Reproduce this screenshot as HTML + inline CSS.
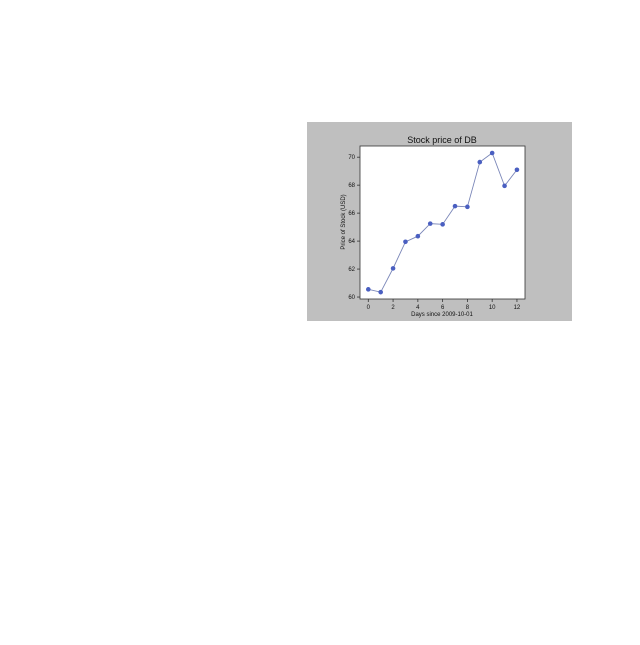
<!DOCTYPE html>
<html><head><meta charset="utf-8"><style>
body{margin:0;width:640px;height:640px;background:#fff;font-family:"Liberation Sans",sans-serif}
</style></head><body>
<svg width="640" height="640">
<rect x="307" y="122" width="265" height="199" fill="#bfbfbf"/>
<rect x="360" y="146" width="165" height="153" fill="#fff" stroke="#333" stroke-width="0.8"/>
<text x="442" y="143" font-size="9" text-anchor="middle" fill="#111">Stock price of DB</text>
<text x="442" y="316" font-size="6" text-anchor="middle" fill="#111">Days since 2009-10-01</text>
<text transform="translate(345,222) rotate(-90)" font-size="6" text-anchor="middle" fill="#111">Price of Stock (USD)</text>
<g id="ax"></g><g id="marks"></g>
</svg>
<script>
const days=[0,1,2,3,4,5,6,7,8,9,10,11,12];
const prices=[60.55,60.35,62.05,63.95,64.35,65.25,65.2,66.5,66.45,69.65,70.3,67.95,69.1];
const xTicks=[0,2,4,6,8,10,12];
const yTicks=[60,62,64,66,68,70];
const NS="http://www.w3.org/2000/svg";
const X=v=>360+(v+0.67)*(165/13.32);
const Y=v=>299-(v-59.86)*(153/10.94);
function mk(t,a,p){const e=document.createElementNS(NS,t);for(const k in a)e.setAttribute(k,a[k]);p.appendChild(e);return e;}
const ax=document.getElementById('ax'),mg=document.getElementById('marks');
xTicks.forEach(v=>{
 const l=mk('line',{x1:X(v),x2:X(v),y1:299,y2:302,stroke:'#333','stroke-width':0.8},ax);
 
 
 const t=mk('text',{x:X(v),y:309,'font-size':6,'text-anchor':'middle',fill:'#111'},ax);t.textContent=v;
 
 
});
yTicks.forEach(v=>{
 const l=mk('line',{x1:357,x2:360,y1:Y(v),y2:Y(v),stroke:'#333','stroke-width':0.8},ax);
 
 
 const t=mk('text',{x:355,y:Y(v)+2,'font-size':6,'text-anchor':'end',fill:'#111'},ax);t.textContent=v;
 
 
});
const pl=mk('polyline',{points:days.map((d,i)=>X(d)+','+Y(prices[i])).join(' '),fill:'none',stroke:'#7a86b8','stroke-width':0.9},mg);


days.forEach((d,i)=>{
 const c=mk('circle',{cx:X(d),cy:Y(prices[i]),r:2.3,fill:'#4a5fc1'},mg);
 
 
});
</script>
</body></html>
